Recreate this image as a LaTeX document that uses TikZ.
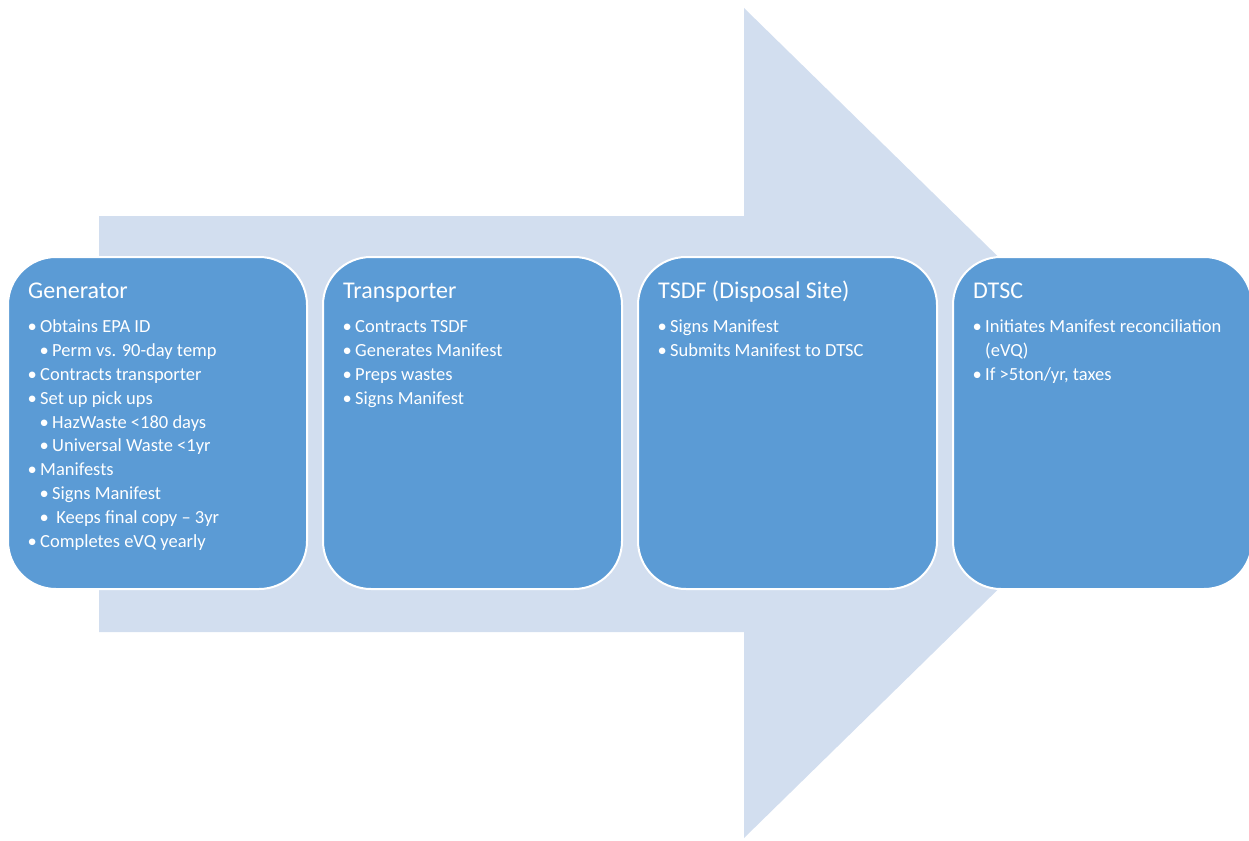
\documentclass[tikz,border=0pt]{standalone}
\usepackage{fontspec}
\setmainfont{Carlito}
\usepackage{tikz}
\usetikzlibrary{positioning}

\definecolor{stageblue}{RGB}{91,155,213}
\definecolor{flowblue}{RGB}{210,222,239}

\newcommand{\itm}{\makebox[10pt][l]{\hspace{-2.5pt}\textbullet}}
\newcommand{\subitm}{\hspace{12pt}\itm}
\newcommand{\liststrut}{\rule{0pt}{16pt}}

\begin{document}
\begin{tikzpicture}[
  x=1pt, y=-1pt,
  stage/.style={rectangle, rounded corners=48pt, draw=white, line width=2pt,
    fill=stageblue, minimum width=299pt, minimum height=332pt, inner sep=0pt},
  stagetitle/.style={anchor=base west, inner sep=0pt, text=white,
    font=\fontsize{24}{28}\selectfont},
  stagelist/.style={anchor=north west, inner sep=0pt, text=white, align=left,
    font=\fontsize{18.5}{23.9}\selectfont},
  node distance=14pt
]
  \useasboundingbox (0,0) rectangle (1249,840);

  % === Big arrow behind the stages ===
  \fill[flowblue] (99,216) -- (744,216) -- (744,8) -- (1168,423)
    -- (744,838) -- (744,632) -- (99,632) -- cycle;

  % === Stage boxes ===
  \node[stage] (gen) at (157.5,423) {};
  \node[stage, right=of gen] (trans) {};
  \node[stage, right=of trans] (tsdf) {};
  \node[stage, right=of tsdf] (dtsc) {};

  % Generator
  \node[stagetitle] (gen-title) at ([shift={(21,42.5)}]gen.north west)
    {Generator};
  \node[stagelist] (gen-list) at ([shift={(23,60.2)}]gen.north west)
    {\liststrut\itm Obtains EPA ID\\
     \subitm Perm vs. 90-day temp\\
     \itm Contracts transporter\\
     \itm Set up pick ups\\
     \subitm HazWaste <180 days\\
     \subitm Universal Waste <1yr\\
     \itm Manifests\\
     \subitm Signs Manifest\\
     \subitm\ Keeps final copy – 3yr\\
     \itm Completes eVQ yearly};

  % Transporter
  \node[stagetitle] (trans-title) at ([shift={(21,42.5)}]trans.north west)
    {Transporter};
  \node[stagelist] (trans-list) at ([shift={(23,60.2)}]trans.north west)
    {\liststrut\itm Contracts TSDF\\
     \itm Generates Manifest\\
     \itm Preps wastes\\
     \itm Signs Manifest};

  % TSDF
  \node[stagetitle] (tsdf-title) at ([shift={(21,42.5)}]tsdf.north west)
    {TSDF (Disposal Site)};
  \node[stagelist] (tsdf-list) at ([shift={(23,60.2)}]tsdf.north west)
    {\liststrut\itm Signs Manifest\\
     \itm Submits Manifest to DTSC};

  % DTSC
  \node[stagetitle] (dtsc-title) at ([shift={(21,42.5)}]dtsc.north west)
    {DTSC};
  \node[stagelist] (dtsc-list) at ([shift={(23,60.2)}]dtsc.north west)
    {\liststrut\itm Initiates Manifest reconciliation\\
     \hspace{10pt}(eVQ)\\
     \itm If >5ton/yr, taxes};
\end{tikzpicture}
\end{document}
